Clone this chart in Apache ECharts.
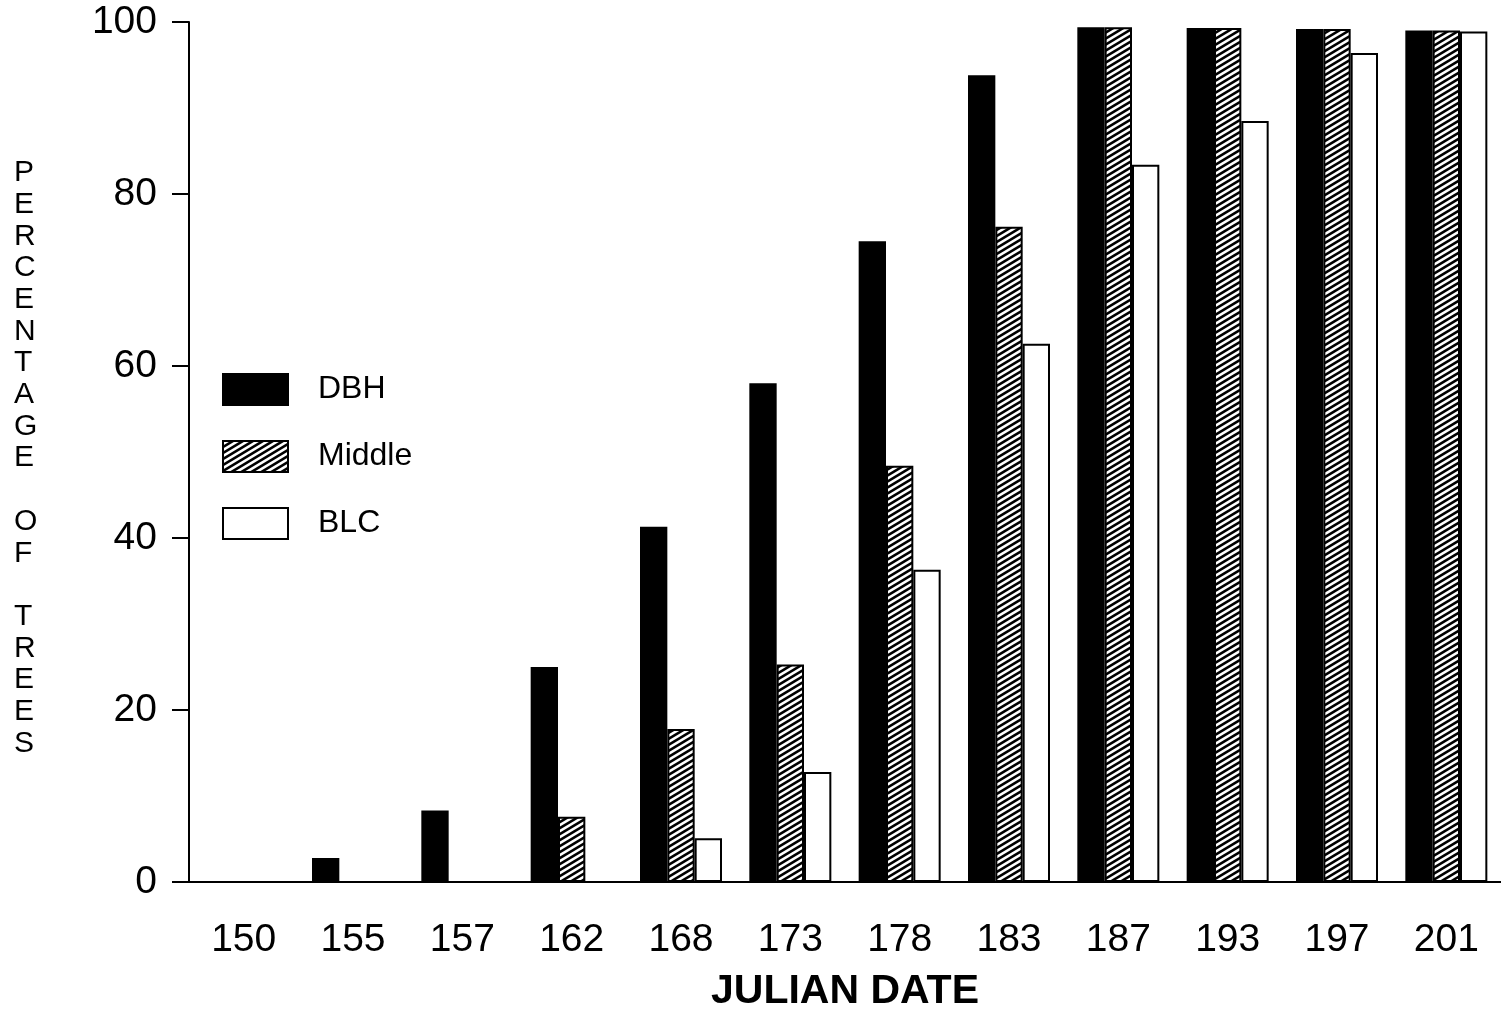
<!DOCTYPE html>
<html>
<head>
<meta charset="utf-8">
<title>Percentage of trees by Julian date</title>
<script src="https://cdn.jsdelivr.net/npm/echarts@6/dist/echarts.min.js"></script>
<style>
  html, body { margin: 0; padding: 0; background: #fff; }
  #chart { width: 1501px; height: 1017px; }
</style>
</head>
<body>
<div id="chart"></div>
<script>
  // 数据（从图上读出的百分比）
  var julianDates = ['150', '155', '157', '162', '168', '173', '178', '183', '187', '193', '197', '201'];
  var dbhValues = [0, 2.8, 8.3, 25.0, 41.3, 58.0, 74.5, 93.8, 99.4, 99.3, 99.2, 99.0];
  var middleValues = [0, 0, 0, 7.6, 17.8, 25.3, 48.4, 76.2, 99.4, 99.3, 99.2, 99.0];
  var blcValues = [0, 0, 0, 0, 5.1, 12.8, 36.3, 62.6, 83.4, 88.5, 96.4, 98.9];
  var yTicks = [0, 20, 40, 60, 80, 100];

  var fontFamily = "'Liberation Sans', Arial, Helvetica, sans-serif";

  // 斜线填充 (Middle)
  function hatchPattern() {
    var w = 10, h = 6;
    var c = document.createElement('canvas');
    c.width = w;
    c.height = h;
    var ctx = c.getContext('2d');
    ctx.fillStyle = '#fff';
    ctx.fillRect(0, 0, w, h);
    ctx.strokeStyle = '#000';
    ctx.lineWidth = 2.6;
    for (var k = -1; k <= 1; k++) {
      ctx.beginPath();
      ctx.moveTo(-w, h * 2 + k * h);
      ctx.lineTo(w * 2, -h + k * h);
      ctx.stroke();
    }
    return c;
  }

  var chart = echarts.init(document.getElementById('chart'));

  var option = {
    backgroundColor: '#fff',
    animation: false,
    textStyle: { fontFamily: fontFamily, color: '#000' },
    grid: {
      left: 189,
      top: 22,
      width: 1316,
      height: 860
    },
    legend: {
      orient: 'vertical',
      left: 222,
      top: 373,
      padding: 0,
      icon: 'rect',
      itemWidth: 65,
      itemHeight: 31,
      itemGap: 34,
      textStyle: {
        fontFamily: fontFamily,
        fontSize: 32,
        color: '#000',
        padding: [14, 0, 0, 25]
      },
      data: ['DBH', 'Middle', 'BLC']
    },
    graphic: [
      {
        type: 'text',
        left: 14,
        top: 157,
        style: {
          text: 'P\nE\nR\nC\nE\nN\nT\nA\nG\nE\n\nO\nF\n\nT\nR\nE\nE\nS',
          font: '30px ' + fontFamily,
          fill: '#000',
          lineHeight: 31.7,
          align: 'center',
          width: 28
        }
      }
    ],
    xAxis: {
      type: 'category',
      data: julianDates,
      name: 'JULIAN DATE',
      nameLocation: 'middle',
      nameGap: 89,
      nameTextStyle: {
        fontFamily: fontFamily,
        fontSize: 41,
        fontWeight: 'bold',
        color: '#000'
      },
      axisLine: { lineStyle: { color: '#000', width: 2 } },
      axisTick: {
        alignWithLabel: true,
        length: 18,
        lineStyle: { color: '#000', width: 2 }
      },
      axisLabel: {
        margin: 39,
        fontSize: 39,
        color: '#000',
        fontFamily: fontFamily
      },
      splitLine: { show: false }
    },
    yAxis: {
      type: 'value',
      min: 0,
      max: 100,
      interval: 20,
      axisLine: { show: true, lineStyle: { color: '#000', width: 2 } },
      axisTick: {
        show: true,
        length: 17,
        lineStyle: { color: '#000', width: 2 }
      },
      axisLabel: {
        margin: 32,
        fontSize: 39,
        color: '#000',
        fontFamily: fontFamily,
        padding: [8, 0, 0, 0],
        formatter: function (v) {
          return yTicks.indexOf(v) > -1 ? String(v) : '';
        }
      },
      splitLine: { show: false }
    },
    series: [
      {
        name: 'DBH',
        type: 'bar',
        barGap: '0%',
        barCategoryGap: '25%',
        itemStyle: { color: '#000', borderColor: '#000', borderWidth: 2 },
        data: dbhValues
      },
      {
        name: 'Middle',
        type: 'bar',
        barGap: '0%',
        barCategoryGap: '25%',
        itemStyle: {
          color: { image: hatchPattern(), repeat: 'repeat' },
          borderColor: '#000',
          borderWidth: 2
        },
        data: middleValues
      },
      {
        name: 'BLC',
        type: 'bar',
        barGap: '0%',
        barCategoryGap: '25%',
        itemStyle: { color: '#fff', borderColor: '#000', borderWidth: 2 },
        data: blcValues
      }
    ]
  };

  chart.setOption(option);
</script>
</body>
</html>
